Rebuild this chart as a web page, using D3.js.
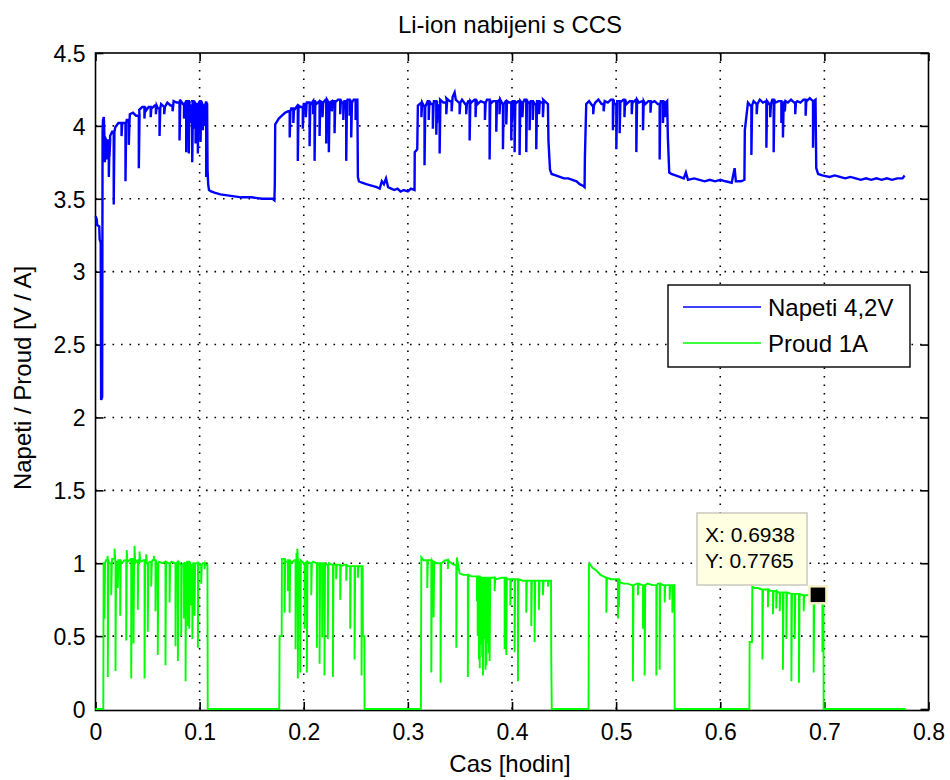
<!DOCTYPE html>
<html>
<head>
<meta charset="utf-8">
<script src="https://cdn.jsdelivr.net/npm/d3@7"></script>
<style>
  html, body { margin: 0; padding: 0; background: #fff; }
  svg { display: block; font-family: "Liberation Sans", Arial, Helvetica, sans-serif; }
</style>
</head>
<body>
<svg id="chart" width="950" height="780"></svg>
<script>
// ---- chart text ----
const chartTitle = "Li-ion nabijeni s CCS";
const xLabel = "Cas [hodin]";
const yLabel = "Napeti / Proud [V / A]";
const seriesNames = ["Napeti 4,2V", "Proud 1A"];

// ---- axes ----
const xTicks = [0, 0.1, 0.2, 0.3, 0.4, 0.5, 0.6, 0.7, 0.8];
const yTicks = [0, 0.5, 1, 1.5, 2, 2.5, 3, 3.5, 4, 4.5];

// ---- voltage [V]: running level [time h, value] ----
const voltageLevel = [
  [0.0000,3.38],[0.0012,3.36],[0.0016,3.32],[0.0036,3.31],[0.0040,3.22],[0.0050,3.20],
  [0.0054,2.12],[0.0064,2.14],[0.0068,3.96],[0.0072,4.04],[0.0080,4.06],[0.0086,3.92],
  [0.0100,3.87],[0.0120,3.90],[0.0140,3.93],[0.0160,3.96],[0.0190,3.99],[0.0220,4.02],
  [0.0260,4.02],[0.0300,4.04],[0.0330,4.08],[0.0360,4.09],[0.0390,4.07],[0.0420,4.11],
  [0.0450,4.13],[0.0480,4.10],[0.0510,4.13],[0.0540,4.12],[0.0570,4.14],[0.0600,4.12],
  [0.0630,4.15],[0.0660,4.13],[0.0690,4.16],[0.0720,4.14],[0.0750,4.17],[0.0780,4.16],
  [0.0810,4.18],[0.0840,4.15],[0.0870,4.17],[0.0900,4.14],[0.0930,4.17],[0.0960,4.15],
  [0.1000,4.17],[0.1030,4.14],[0.1060,4.16],[0.1072,4.15],[0.1076,3.70],[0.1082,3.60],
  [0.1090,3.56],[0.1110,3.55],[0.1150,3.54],[0.1200,3.53],[0.1300,3.52],[0.1400,3.51],
  [0.1500,3.51],[0.1600,3.50],[0.1700,3.50],[0.1718,3.49],[0.1722,3.60],[0.1726,4.01],
  [0.1760,4.05],[0.1790,4.07],[0.1820,4.09],[0.1850,4.10],[0.1880,4.12],[0.1910,4.11],
  [0.1940,4.14],[0.1970,4.13],[0.2000,4.15],[0.2030,4.16],[0.2060,4.14],[0.2090,4.17],
  [0.2120,4.15],[0.2150,4.17],[0.2180,4.16],[0.2210,4.18],[0.2240,4.16],[0.2270,4.17],
  [0.2300,4.16],[0.2330,4.18],[0.2360,4.16],[0.2390,4.17],[0.2420,4.18],[0.2450,4.16],
  [0.2480,4.18],[0.2515,4.18],[0.2520,3.65],[0.2530,3.62],[0.2560,3.61],[0.2600,3.60],
  [0.2650,3.59],[0.2700,3.58],[0.2730,3.57],[0.2750,3.62],[0.2770,3.60],[0.2790,3.64],
  [0.2810,3.58],[0.2840,3.57],[0.2870,3.56],[0.2900,3.57],[0.2930,3.55],[0.2960,3.56],
  [0.3000,3.55],[0.3030,3.57],[0.3064,3.56],[0.3066,3.82],[0.3090,3.84],[0.3096,4.14],
  [0.3130,4.16],[0.3160,4.13],[0.3190,4.17],[0.3220,4.15],[0.3250,4.17],[0.3280,4.14],
  [0.3310,4.18],[0.3340,4.16],[0.3370,4.19],[0.3400,4.17],[0.3430,4.20],[0.3449,4.23],
  [0.3460,4.18],[0.3490,4.16],[0.3520,4.18],[0.3550,4.15],[0.3580,4.17],[0.3610,4.16],
  [0.3640,4.18],[0.3670,4.15],[0.3700,4.17],[0.3730,4.16],[0.3760,4.18],[0.3790,4.15],
  [0.3820,4.17],[0.3850,4.16],[0.3880,4.18],[0.3910,4.15],[0.3940,4.17],[0.3970,4.16],
  [0.4000,4.17],[0.4030,4.15],[0.4060,4.17],[0.4090,4.16],[0.4120,4.18],[0.4150,4.16],
  [0.4180,4.17],[0.4210,4.15],[0.4240,4.17],[0.4270,4.16],[0.4300,4.18],[0.4330,4.16],
  [0.4345,4.15],[0.4350,3.90],[0.4365,3.70],[0.4380,3.67],[0.4420,3.66],[0.4460,3.65],
  [0.4500,3.64],[0.4540,3.64],[0.4580,3.63],[0.4620,3.62],[0.4650,3.60],[0.4680,3.59],
  [0.4697,3.58],[0.4700,3.78],[0.4713,4.15],[0.4740,4.17],[0.4770,4.14],[0.4800,4.16],
  [0.4830,4.18],[0.4860,4.15],[0.4890,4.17],[0.4920,4.16],[0.4950,4.18],[0.4980,4.15],
  [0.5010,4.17],[0.5040,4.16],[0.5070,4.18],[0.5100,4.15],[0.5130,4.17],[0.5160,4.16],
  [0.5190,4.18],[0.5220,4.16],[0.5250,4.17],[0.5280,4.15],[0.5310,4.17],[0.5340,4.16],
  [0.5370,4.17],[0.5400,4.15],[0.5430,4.17],[0.5460,4.16],[0.5490,4.17],[0.5497,3.92],
  [0.5510,3.68],[0.5530,3.67],[0.5570,3.66],[0.5610,3.65],[0.5650,3.64],[0.5670,3.68],
  [0.5690,3.63],[0.5750,3.64],[0.5800,3.63],[0.5850,3.62],[0.5900,3.63],[0.5950,3.62],
  [0.6000,3.63],[0.6050,3.62],[0.6110,3.61],[0.6138,3.71],[0.6150,3.62],[0.6200,3.62],
  [0.6232,3.63],[0.6236,3.97],[0.6266,4.16],[0.6290,4.14],[0.6320,4.17],[0.6350,4.15],
  [0.6380,4.18],[0.6410,4.16],[0.6440,4.17],[0.6470,4.15],[0.6500,4.18],[0.6530,4.16],
  [0.6560,4.17],[0.6590,4.15],[0.6620,4.17],[0.6650,4.16],[0.6680,4.18],[0.6710,4.16],
  [0.6740,4.17],[0.6770,4.16],[0.6800,4.18],[0.6830,4.17],[0.6860,4.19],[0.6890,4.17],
  [0.6915,4.18],[0.6922,3.71],[0.6940,3.67],[0.6980,3.66],[0.7050,3.65],[0.7100,3.66],
  [0.7150,3.65],[0.7200,3.64],[0.7250,3.65],[0.7300,3.64],[0.7350,3.63],[0.7400,3.64],
  [0.7450,3.63],[0.7500,3.64],[0.7550,3.63],[0.7600,3.64],[0.7650,3.63],[0.7700,3.64],
  [0.7750,3.64],[0.7771,3.66]
];

// ---- voltage dips [time h, lowest value] ----
const voltageSpikes = [
  [0.0090,3.75],[0.0106,3.77],[0.0128,3.65],[0.0134,3.79],[0.0175,3.46],[0.0250,3.93],
  [0.0288,3.62],[0.0320,3.87],[0.0416,3.71],[0.0470,4.05],[0.0530,4.06],[0.0580,4.08],
  [0.0615,3.93],[0.0660,4.08],[0.0740,4.10],[0.0807,3.90],[0.0850,4.05],[0.0871,3.82],
  [0.0896,3.81],[0.0910,4.02],[0.0929,3.75],[0.0940,3.98],[0.0961,3.88],[0.0983,3.81],
  [0.1000,4.04],[0.1009,3.89],[0.1031,3.97],[0.1045,4.00],[0.1063,3.65],
  [0.1865,3.92],[0.1900,4.02],[0.1943,3.76],[0.1991,3.98],[0.2020,4.06],[0.2056,3.86],
  [0.2090,4.08],[0.2104,3.76],[0.2152,3.93],[0.2180,4.06],[0.2216,3.88],[0.2241,3.82],
  [0.2270,4.10],[0.2296,3.95],[0.2350,4.08],[0.2380,4.04],[0.2408,3.76],[0.2440,4.07],
  [0.2456,3.92],[0.2498,4.04],
  [0.3130,4.06],[0.3160,3.73],[0.3200,4.04],[0.3240,3.98],[0.3273,3.94],[0.3280,4.02],
  [0.3305,3.81],[0.3369,4.08],[0.3420,4.10],[0.3497,4.08],[0.3560,4.08],[0.3593,3.90],
  [0.3650,4.06],[0.3740,4.04],[0.3785,3.77],[0.3849,3.96],[0.3880,4.08],[0.3913,3.84],
  [0.3945,4.01],[0.3993,3.90],[0.4000,4.03],[0.4025,3.82],[0.4073,3.80],[0.4100,4.06],
  [0.4137,3.82],[0.4169,3.97],[0.4200,4.04],[0.4233,3.84],[0.4260,4.08],[0.4297,4.06],
  [0.4780,4.08],[0.4880,4.10],[0.4969,3.97],[0.5002,3.84],[0.5034,3.95],[0.5080,4.06],
  [0.5150,4.08],[0.5194,3.82],[0.5258,3.97],[0.5330,4.09],[0.5418,3.77],[0.5450,4.02],
  [0.5470,4.06],
  [0.6299,3.80],[0.6350,4.08],[0.6443,3.85],[0.6480,4.06],[0.6513,3.82],[0.6587,4.02],
  [0.6602,3.92],[0.6620,4.10],[0.6720,4.08],[0.6820,4.07],[0.6891,3.85]
];

// ---- current [A]: running level [time h, value] ----
const currentLevel = [
  [0.0000,0.00],[0.0075,0.00],[0.0078,1.00],[0.0100,1.02],[0.0130,1.00],[0.0160,1.03],
  [0.0190,1.01],[0.0220,1.02],[0.0250,1.00],[0.0280,1.02],[0.0310,1.01],[0.0340,1.03],
  [0.0370,1.00],[0.0400,1.02],[0.0430,1.01],[0.0460,1.02],[0.0490,1.00],[0.0520,1.01],
  [0.0550,1.02],[0.0580,1.00],[0.0610,1.01],[0.0640,1.00],[0.0670,1.01],[0.0700,1.00],
  [0.0730,1.01],[0.0760,1.00],[0.0790,1.01],[0.0820,0.99],[0.0850,1.00],[0.0880,1.01],
  [0.0910,0.99],[0.0940,1.00],[0.0970,1.00],[0.1000,0.99],[0.1030,1.00],[0.1060,0.99],
  [0.1075,0.99],[0.1078,0.00],[0.1765,0.00],[0.1768,0.50],[0.1788,0.50],[0.1790,1.03],
  [0.1820,1.01],[0.1850,1.02],[0.1880,1.00],[0.1910,1.02],[0.1940,1.01],[0.1970,1.02],
  [0.2000,1.00],[0.2030,1.01],[0.2060,1.00],[0.2090,1.01],[0.2120,1.00],[0.2150,1.00],
  [0.2180,1.00],[0.2210,0.99],[0.2240,1.00],[0.2270,0.99],[0.2300,0.99],[0.2330,0.99],
  [0.2360,0.98],[0.2390,0.99],[0.2420,0.98],[0.2450,0.98],[0.2480,0.98],[0.2510,0.98],
  [0.2566,0.98],[0.2568,0.50],[0.2582,0.50],[0.2584,0.00],[0.3125,0.00],[0.3129,1.04],
  [0.3150,1.02],[0.3200,1.02],[0.3240,1.01],[0.3280,1.00],[0.3320,1.00],[0.3360,1.02],
  [0.3400,1.01],[0.3440,0.99],[0.3470,1.04],[0.3497,0.93],[0.3530,0.92],[0.3570,0.92],
  [0.3610,0.91],[0.3650,0.91],[0.3700,0.90],[0.3750,0.90],[0.3800,0.90],[0.3850,0.89],
  [0.3900,0.90],[0.3950,0.89],[0.4000,0.89],[0.4050,0.89],[0.4100,0.88],[0.4150,0.88],
  [0.4200,0.88],[0.4250,0.88],[0.4300,0.88],[0.4350,0.88],[0.4375,0.88],[0.4377,0.34],
  [0.4382,0.00],[0.4735,0.00],[0.4739,0.99],[0.4745,1.00],[0.4770,0.97],[0.4810,0.95],
  [0.4850,0.92],[0.4905,0.90],[0.4950,0.89],[0.5002,0.89],[0.5034,0.87],[0.5070,0.86],
  [0.5110,0.86],[0.5150,0.85],[0.5200,0.86],[0.5250,0.85],[0.5300,0.86],[0.5350,0.85],
  [0.5400,0.86],[0.5450,0.85],[0.5500,0.85],[0.5560,0.85],[0.5562,0.00],[0.6280,0.00],
  [0.6282,0.46],[0.6305,0.46],[0.6308,0.84],[0.6330,0.83],[0.6360,0.83],[0.6400,0.82],
  [0.6440,0.82],[0.6480,0.81],[0.6520,0.81],[0.6560,0.80],[0.6600,0.80],[0.6640,0.80],
  [0.6680,0.79],[0.6720,0.79],[0.6760,0.79],[0.6800,0.78],[0.6840,0.78],[0.6880,0.78],
  [0.6938,0.7765],[0.6970,0.78],[0.6991,0.78],[0.6993,0.00],[0.7781,0.00]
];

// ---- current dips and overshoots [time h, extreme value] ----
const currentSpikes = [
  [0.0086,0.62],[0.0115,1.05],[0.0118,0.22],[0.0151,0.78],[0.0183,1.10],[0.0192,0.26],
  [0.0214,0.83],[0.0237,0.64],[0.0295,0.47],[0.0300,1.09],[0.0343,0.21],[0.0365,0.45],
  [0.0375,1.12],[0.0406,0.68],[0.0423,1.08],[0.0471,0.21],[0.0487,1.06],[0.0502,0.53],
  [0.0535,0.84],[0.0560,1.05],[0.0576,0.67],[0.0598,0.37],[0.0672,0.30],[0.0711,0.73],
  [0.0768,0.43],[0.0791,0.33],[0.0823,0.50],[0.0850,0.62],[0.0865,0.19],[0.0887,0.57],
  [0.0900,0.55],[0.0919,0.71],[0.0930,0.48],[0.0951,0.64],[0.0983,0.42],[0.1015,0.86],
  [0.1047,0.96],
  [0.1816,0.66],[0.1847,0.81],[0.1864,0.66],[0.1921,0.41],[0.1930,1.07],[0.1938,1.10],
  [0.1943,0.21],[0.1966,0.25],[0.2008,0.55],[0.2030,0.25],[0.2072,0.78],[0.2126,0.42],
  [0.2152,0.31],[0.2177,0.49],[0.2199,0.23],[0.2231,0.48],[0.2280,0.22],[0.2311,0.89],
  [0.2350,0.75],[0.2408,0.88],[0.2446,0.55],[0.2488,0.34],[0.2520,0.90],[0.2555,0.23],
  [0.3186,0.83],[0.3225,0.25],[0.3247,0.63],[0.3314,0.18],[0.3384,0.96],[0.3465,0.42],
  [0.3576,0.22],[0.3663,0.74],[0.3670,0.50],[0.3682,0.34],[0.3690,0.28],[0.3705,0.44],
  [0.3713,0.36],[0.3721,0.23],[0.3729,0.48],[0.3737,0.57],[0.3745,0.27],[0.3753,0.30],
  [0.3761,0.52],[0.3769,0.45],[0.3777,0.38],[0.3785,0.33],[0.3833,0.81],[0.3929,0.41],
  [0.3945,0.37],[0.3984,0.71],[0.4025,0.39],[0.4057,0.19],[0.4137,0.66],[0.4185,0.57],
  [0.4217,0.46],[0.4258,0.68],[0.4297,0.78],[0.4345,0.84],
  [0.4906,0.66],[0.5017,0.62],[0.5027,0.70],[0.5161,0.19],[0.5209,0.78],[0.5258,0.55],
  [0.5274,0.23],[0.5386,0.23],[0.5418,0.27],[0.5466,0.73],[0.5514,0.75],[0.5540,0.66],
  [0.6405,0.34],[0.6458,0.70],[0.6506,0.65],[0.6538,0.69],[0.6571,0.67],[0.6602,0.27],
  [0.6635,0.48],[0.6683,0.19],[0.6715,0.48],[0.6756,0.18],[0.6801,0.67],[0.6897,0.25],
  [0.6981,0.39]
];

// ---- data cursor ----
const tipPoint = [0.6938, 0.7765];

// ---- layout ----
const plot = { left: 95.5, right: 928.5, top: 53, bottom: 709 };
const svg = d3.select("#chart");

const x = d3.scaleLinear().domain([0, 0.8]).range([plot.left, plot.right]);
const y = d3.scaleLinear().domain([0, 4.5]).range([plot.bottom, plot.top]);

// Merge a level trace with its short excursions: each excursion leaves the
// current level vertically and returns to it right away.
function buildTrace(level, spikes, width) {
  const marks = level.map(d => ({ t: d[0], v: d[1], spike: 0 }))
    .concat(spikes.map(d => ({ t: d[0], v: d[1], spike: 1 })))
    .sort((a, b) => (a.t - b.t) || (a.spike - b.spike));
  const pts = [];
  let last = marks[0].v;
  for (const m of marks) {
    if (m.spike) {
      pts.push([m.t, last], [m.t, m.v], [m.t + width, last]);
    } else {
      pts.push([m.t, m.v]);
      last = m.v;
    }
  }
  return pts;
}

// grid (dotted)
const grid = svg.append("g");
grid.selectAll("line.gx").data(xTicks.slice(1, -1)).join("line")
  .attr("x1", d => x(d)).attr("x2", d => x(d))
  .attr("y1", plot.top).attr("y2", plot.bottom)
  .attr("stroke", "#000").attr("stroke-width", 1.6)
  .attr("stroke-dasharray", "1.6,6.9");
grid.selectAll("line.gy").data(yTicks.slice(1, -1)).join("line")
  .attr("y1", d => y(d)).attr("y2", d => y(d))
  .attr("x1", plot.left).attr("x2", plot.right)
  .attr("stroke", "#000").attr("stroke-width", 1.6)
  .attr("stroke-dasharray", "1.6,6.9");

// axes with inward ticks on all four sides
const tickLen = 8;
const xAxisB = d3.axisBottom(x).tickValues(xTicks).tickSize(-tickLen).tickPadding(16)
  .tickFormat(d => d === 0 ? "0" : d3.format(".1f")(d));
const xAxisT = d3.axisTop(x).tickValues(xTicks).tickSize(-tickLen).tickFormat("");
const yAxisL = d3.axisLeft(y).tickValues(yTicks).tickSize(-tickLen).tickPadding(18)
  .tickFormat(d => Number.isInteger(d) ? String(d) : d3.format(".1f")(d));
const yAxisR = d3.axisRight(y).tickValues(yTicks).tickSize(-tickLen).tickFormat("");

function styleAxis(g) {
  g.select(".domain").remove();
  g.selectAll(".tick line").attr("stroke", "#000").attr("stroke-width", 1.6);
  g.selectAll(".tick text").attr("fill", "#000").style("font-size", "23px")
    .style("font-family", "\"Liberation Sans\", Arial, sans-serif");
}
svg.append("g").attr("transform", `translate(0,${plot.bottom + 1})`).call(xAxisB).call(styleAxis)
  .selectAll(".tick text").attr("dy", "0.71em").attr("y", 14);
svg.append("g").attr("transform", `translate(0,${plot.top})`).call(xAxisT).call(styleAxis);
svg.append("g").attr("transform", `translate(${plot.left},0)`).call(yAxisL).call(styleAxis)
  .selectAll(".tick text").attr("x", -10).attr("dy", "0.36em");
svg.append("g").attr("transform", `translate(${plot.right},0)`).call(yAxisR).call(styleAxis);

// axes frame
svg.append("rect")
  .attr("x", plot.left).attr("y", plot.top)
  .attr("width", plot.right - plot.left).attr("height", plot.bottom + 1.5 - plot.top)
  .attr("fill", "none").attr("stroke", "#000").attr("stroke-width", 1.6);

// data lines
const line = d3.line().x(d => x(d[0])).y(d => y(d[1]));
svg.append("path").datum(buildTrace(voltageLevel, voltageSpikes, 0.0007))
  .attr("d", line).attr("fill", "none").attr("stroke", "#0000ff")
  .attr("stroke-width", 2.4).attr("stroke-linejoin", "miter");
svg.append("path").datum(buildTrace(currentLevel, currentSpikes, 0.0006))
  .attr("d", line).attr("fill", "none").attr("stroke", "#00ff00")
  .attr("stroke-width", 1.9).attr("stroke-linejoin", "miter");

// title and axis labels
svg.append("text").attr("x", 510).attr("y", 33).attr("text-anchor", "middle")
  .style("font-size", "24px").attr("fill", "#000").text(chartTitle);
svg.append("text").attr("x", 510).attr("y", 772).attr("text-anchor", "middle")
  .style("font-size", "24px").attr("fill", "#000").text(xLabel);
svg.append("text").attr("transform", "translate(31,378) rotate(-90)")
  .attr("text-anchor", "middle").style("font-size", "24px").attr("fill", "#000").text(yLabel);

// legend
const legend = svg.append("g");
legend.append("rect").attr("x", 668).attr("y", 285).attr("width", 242).attr("height", 82)
  .attr("fill", "#fff").attr("stroke", "#000").attr("stroke-width", 1.4);
const legendColors = ["#0000ff", "#00ff00"];
seriesNames.forEach((name, i) => {
  const ly = 307 + i * 36;
  legend.append("line").attr("x1", 683).attr("x2", 761).attr("y1", ly).attr("y2", ly)
    .attr("stroke", legendColors[i]).attr("stroke-width", 1.6);
  legend.append("text").attr("x", 768).attr("y", ly + 8.5)
    .style("font-size", "24px").attr("fill", "#000").text(name);
});

// data cursor: marker and value box
const mx = x(tipPoint[0]), my = y(tipPoint[1]);
svg.append("rect").attr("x", mx - 8.5).attr("y", my - 9.5).attr("width", 17).attr("height", 17)
  .attr("fill", "#000").attr("stroke", "#f7f1c9").attr("stroke-width", 2.5);
const tip = svg.append("g");
tip.append("rect").attr("x", 697).attr("y", 513).attr("width", 110).attr("height", 72)
  .attr("fill", "#ffffe1").attr("stroke", "#c9c9c0").attr("stroke-width", 1.5);
tip.append("text").attr("x", 705).attr("y", 542).style("font-size", "21px").attr("fill", "#000")
  .text("X: " + tipPoint[0].toFixed(4));
tip.append("text").attr("x", 705).attr("y", 568).style("font-size", "21px").attr("fill", "#000")
  .text("Y: " + tipPoint[1].toFixed(4));
</script>
</body>
</html>
